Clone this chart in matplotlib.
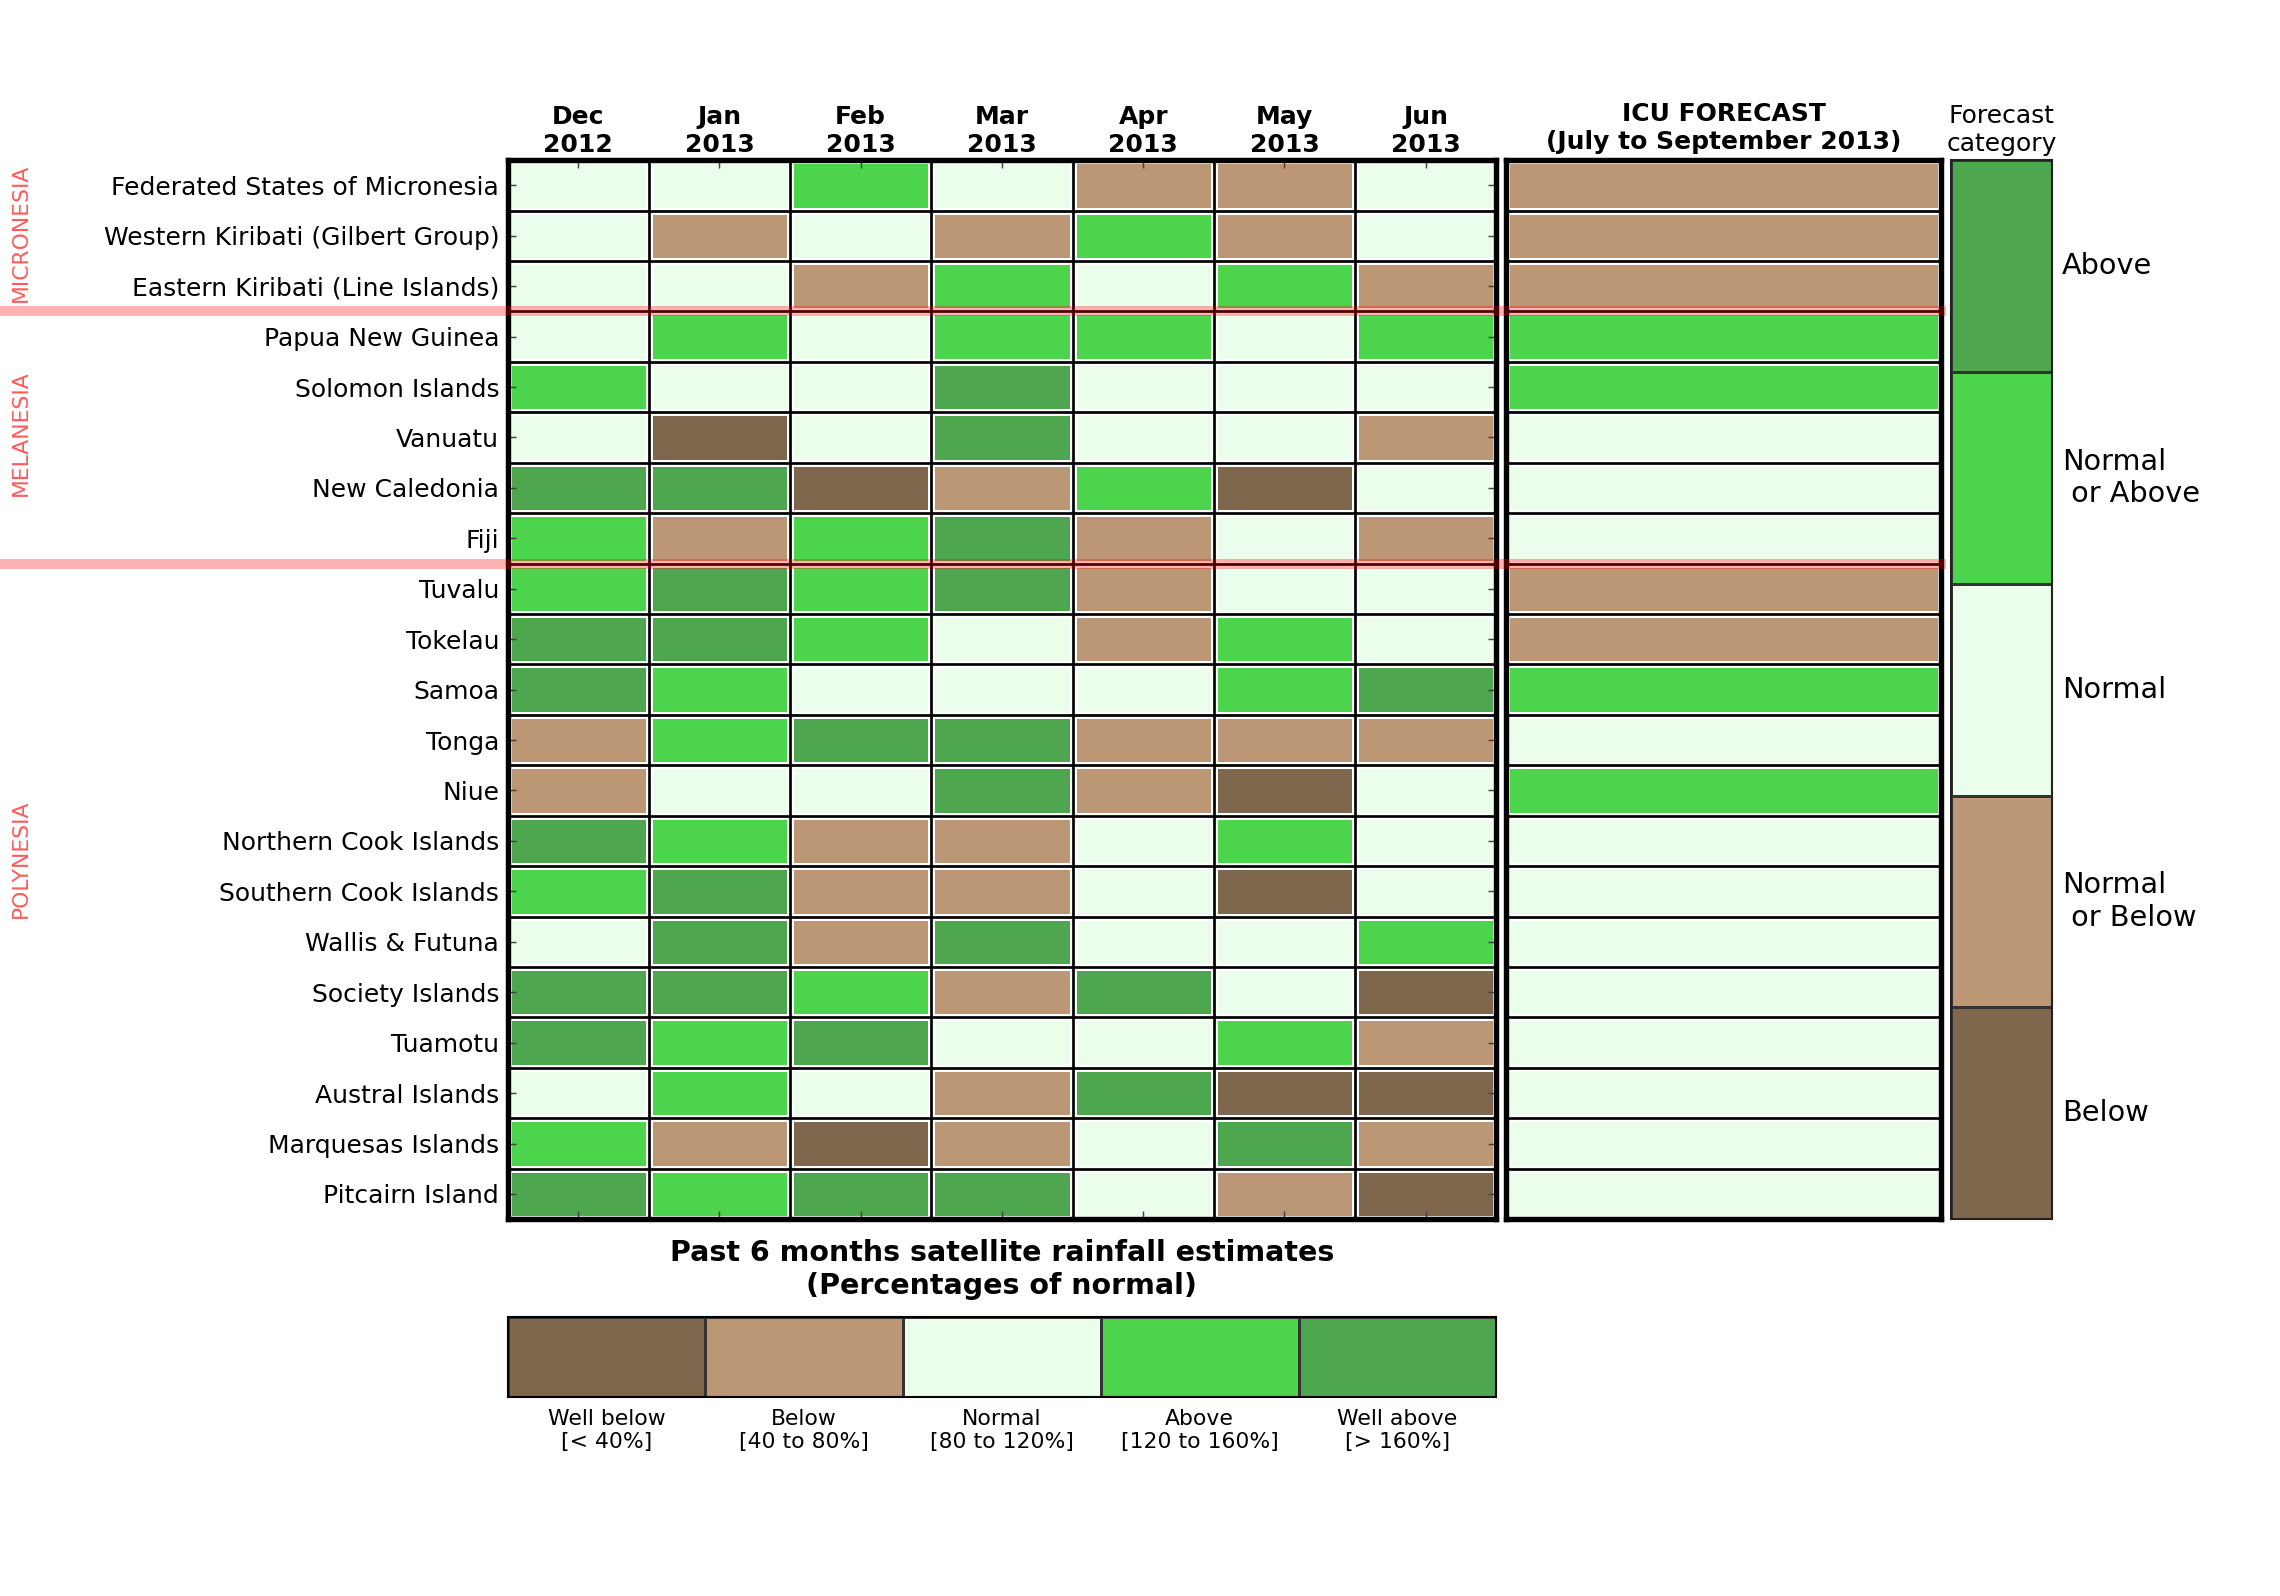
import numpy as np
import matplotlib
matplotlib.use("Agg")
import matplotlib.pyplot as plt
from matplotlib.colors import ListedColormap
from matplotlib.transforms import blended_transform_factory
from matplotlib.lines import Line2D

# ---------------- data ----------------
islands = [
    "Federated States of Micronesia", "Western Kiribati (Gilbert Group)",
    "Eastern Kiribati (Line Islands)", "Papua New Guinea", "Solomon Islands",
    "Vanuatu", "New Caledonia", "Fiji", "Tuvalu", "Tokelau", "Samoa", "Tonga",
    "Niue", "Northern Cook Islands", "Southern Cook Islands", "Wallis & Futuna",
    "Society Islands", "Tuamotu", "Austral Islands", "Marquesas Islands",
    "Pitcairn Island",
]
months = ["Dec\n2012", "Jan\n2013", "Feb\n2013", "Mar\n2013",
          "Apr\n2013", "May\n2013", "Jun\n2013"]

# 0 = Well below, 1 = Below, 2 = Normal, 3 = Above, 4 = Well above
rain = [
    [2, 2, 3, 2, 1, 1, 2],
    [2, 1, 2, 1, 3, 1, 2],
    [2, 2, 1, 3, 2, 3, 1],
    [2, 3, 2, 3, 3, 2, 3],
    [3, 2, 2, 4, 2, 2, 2],
    [2, 0, 2, 4, 2, 2, 1],
    [4, 4, 0, 1, 3, 0, 2],
    [3, 1, 3, 4, 1, 2, 1],
    [3, 4, 3, 4, 1, 2, 2],
    [4, 4, 3, 2, 1, 3, 2],
    [4, 3, 2, 2, 2, 3, 4],
    [1, 3, 4, 4, 1, 1, 1],
    [1, 2, 2, 4, 1, 0, 2],
    [4, 3, 1, 1, 2, 3, 2],
    [3, 4, 1, 1, 2, 0, 2],
    [2, 4, 1, 4, 2, 2, 3],
    [4, 4, 3, 1, 4, 2, 0],
    [4, 3, 4, 2, 2, 3, 1],
    [2, 3, 2, 1, 4, 0, 0],
    [3, 1, 0, 1, 2, 4, 1],
    [4, 3, 4, 4, 2, 1, 0],
]

# forecast: 0 = Below, 1 = Normal or Below, 2 = Normal, 3 = Normal or Above, 4 = Above
forecast = [1, 1, 1, 3, 3, 2, 2, 2, 1, 1, 3, 2, 3, 2, 2, 2, 2, 2, 2, 2, 2]

rain_labels = ["Well below\n[< 40%]", "Below\n[40 to 80%]", "Normal\n[80 to 120%]",
               "Above\n[120 to 160%]", "Well above\n[> 160%]"]
fc_labels = ["Below", "Normal\n or Below", "Normal", "Normal\n or Above", "Above"]

regions = ["MICRONESIA", "MELANESIA", "POLYNESIA"]
region_label_rows = [1.44, 5.42, 13.85]
region_breaks = [3, 8]

colors = ["#7f674d", "#bb9775", "#ebfdeb", "#4dd44d", "#4ea64e"]
cmap = ListedColormap(colors)

# ---------------- figure ----------------
plt.rcParams["font.family"] = ["DejaVu Sans"]
fig = plt.figure(figsize=(15.2, 10.64), dpi=150)

L, R = 0.2226, 0.6563
B, T = 0.2361, 0.8997
ax = fig.add_axes([L, B, R - L, T - B])
axf = fig.add_axes([0.6607, B, 0.8514 - 0.6607, T - B])
axc = fig.add_axes([0.8559, B, 0.8999 - 0.8559, T - B])
axl = fig.add_axes([L, 0.1249, R - L, 0.0501])

nrow, ncol = len(islands), len(months)
data = np.array(rain)

# main grid
ax.pcolormesh(np.arange(ncol + 1), np.arange(nrow + 1), data, cmap=cmap,
              vmin=-0.5, vmax=4.5, edgecolors="white", linewidth=3.2)
ax.hlines(np.arange(1, nrow), 0, ncol, color="black", lw=1.3, zorder=3)
ax.vlines(np.arange(1, ncol), 0, nrow, color="black", lw=1.3, zorder=3)
ax.set_xlim(0, ncol)
ax.set_ylim(nrow, 0)
ax.set_xticks(np.arange(ncol) + 0.5)
ax.set_xticklabels(months, fontsize=12, fontweight="bold")
ax.set_yticks(np.arange(nrow) + 0.5)
ax.set_yticklabels(islands, fontsize=12)
ax.tick_params(direction="in", length=4, width=0.7, top=True, bottom=True,
               left=True, right=True, labeltop=True, labelbottom=False,
               color="#444444", pad=4)
ax.tick_params(axis="x", pad=1.5)
for s in ax.spines.values():
    s.set_linewidth(2.6)
    s.set_zorder(5)

# forecast column
fc = np.array(forecast).reshape(-1, 1)
axf.pcolormesh([0, 1], np.arange(nrow + 1), fc, cmap=cmap, vmin=-0.5, vmax=4.5,
               edgecolors="white", linewidth=3.2)
axf.hlines(np.arange(1, nrow), 0, 1, color="black", lw=1.3, zorder=3)
axf.set_xlim(0, 1)
axf.set_ylim(nrow, 0)
axf.set_xticks([])
axf.set_yticks([])
for s in axf.spines.values():
    s.set_linewidth(2.6)
    s.set_zorder(5)
axf.set_title("ICU FORECAST\n(July to September 2013)", fontsize=12,
              fontweight="bold", pad=5.5)

# forecast category bar
axc.pcolormesh([0, 1], np.arange(6), np.arange(5).reshape(-1, 1), cmap=cmap,
               vmin=-0.5, vmax=4.5, edgecolors="#333333", linewidth=0.7)
axc.set_xlim(0, 1)
axc.set_ylim(0, 5)
axc.set_xticks([])
axc.set_yticks([])
for s in axc.spines.values():
    s.set_linewidth(1.0)
    s.set_color("#222222")
for i, lab in enumerate(fc_labels):
    axc.text(1.1, i + 0.5, lab, transform=axc.transData, fontsize=13.8,
             ha="left", va="center", clip_on=False)
axc.set_title("Forecast\ncategory", fontsize=12, pad=4.5)

# rainfall legend bar
axl.pcolormesh(np.arange(6), [0, 1], np.arange(5).reshape(1, -1), cmap=cmap,
               vmin=-0.5, vmax=4.5, edgecolors="#333333", linewidth=0.7)
axl.set_xlim(0, 5)
axl.set_ylim(0, 1)
axl.set_xticks(np.arange(5) + 0.5)
axl.set_xticklabels(rain_labels, fontsize=10.5)
axl.tick_params(length=0, pad=6)
axl.set_yticks([])
for s in axl.spines.values():
    s.set_linewidth(1.0)
axl.set_title("Past 6 months satellite rainfall estimates\n(Percentages of normal)",
              fontsize=13.7, fontweight="bold", pad=11)

# region separators and labels
tr = blended_transform_factory(fig.transFigure, ax.transData)
xr = 0.8514
for yb in region_breaks:
    fig.add_artist(Line2D([0, xr], [yb, yb], transform=tr, color="red",
                          alpha=0.3, lw=4.8, zorder=10))
for name, yr in zip(regions, region_label_rows):
    fig.text(0.009, yr, name, transform=tr, rotation=90, color="#ff5a5a",
             fontsize=10.5, ha="center", va="center")

fig.savefig("out.png", dpi=150)
